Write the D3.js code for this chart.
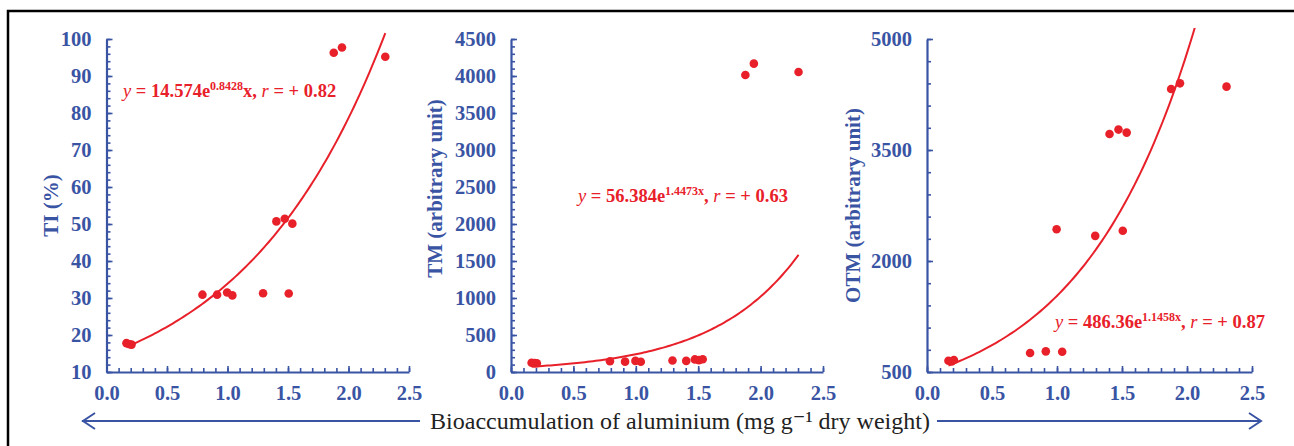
<!DOCTYPE html>
<html>
<head>
<meta charset="utf-8">
<script src="https://cdn.jsdelivr.net/npm/d3@7"></script>
<style>
  body { margin:0; background:#fff; }
  svg text { font-family: "Liberation Serif", Tinos, "Times New Roman", "DejaVu Serif", serif; }
</style>
</head>
<body>
<div id="chart"></div>
<script>
// Al bioaccumulation (mg/g dry weight), same samples in all three panels
var alX   = [0.165, 0.19, 0.207, 0.793, 0.914, 0.997, 1.04, 1.294, 1.404, 1.473, 1.506, 1.536, 1.878, 1.946, 2.304];
var tiVals  = [17.8, 17.5, 17.4, 30.9, 30.9, 31.5, 30.7, 31.3, 50.7, 51.4, 31.2, 50.1, 96.3, 97.7, 95.2];
var tmVals  = [125, 120, 118, 145, 140, 150, 138, 155, 150, 170, 160, 172, 4014, 4167, 4054];
var otmVals = [653, 644, 662, 756, 779, 2430, 774, 2340, 3717, 3776, 2408, 3735, 4325, 4401, 4356];

// exponential trendlines y = a*e^(b*x), r
var trendA = [14.574, 56.384, 486.36];
var trendB = [0.8428, 1.4473, 1.1458];
var trendR = ["0.82", "0.63", "0.87"];

var yTitles = ["TI (%)", "TM (arbitrary unit)", "OTM (arbitrary unit)"];
var xTickVals = [0, 0.5, 1.0, 1.5, 2.0, 2.5];
var xLabel = "Bioaccumulation of aluminium (mg g\u207B\u00B9 dry weight)";

var blue = "#3a54a4";
var red = "#e8202a";
var serif = "'Liberation Serif', Tinos, 'Times New Roman', 'DejaVu Serif', serif";

var svg = d3.select("#chart").append("svg").attr("width", 1294).attr("height", 446)
  .attr("font-family", serif);

// frame (only top and left edge visible in the original)
svg.append("rect").attr("x", 8).attr("y", 11).attr("width", 1320).attr("height", 480)
   .attr("fill", "none").attr("stroke", "#000").attr("stroke-width", 2.5);

var panels = [
  {x0:106.5, x1:409, ymin:10, ymax:100, major:10, minor:2, vals:tiVals, titleX:51,
   eq:{x:123, y:97, supX:false}},
  {x0:511, x1:823, ymin:0, ymax:4500, major:500, minor:100, vals:tmVals, titleX:435,
   eq:{x:578, y:202, supX:true}},
  {x0:927, x1:1252, ymin:500, ymax:5000, major:1500, minor:300, vals:otmVals, titleX:853,
   eq:{x:1055, y:328, supX:true}}
];
var yTop = 39, yBot = 372;

panels.forEach(function(p, i) {
  var x = d3.scaleLinear().domain([0, 2.5]).range([p.x0, p.x1]);
  var y = d3.scaleLinear().domain([p.ymin, p.ymax]).range([yBot, yTop]);

  var g = svg.append("g");

  // minor ticks
  g.append("g").attr("transform", "translate(0," + yBot + ")")
    .call(d3.axisBottom(x).tickValues(d3.range(0, 2.5001, 0.1)).tickSize(-4).tickFormat(""))
    .call(function(a){ a.select(".domain").remove(); });
  g.append("g").attr("transform", "translate(" + p.x0 + ",0)")
    .call(d3.axisLeft(y).tickValues(d3.range(p.ymin, p.ymax + 0.001, p.minor)).tickSize(-4).tickFormat(""))
    .call(function(a){ a.select(".domain").remove(); });

  // major ticks + labels
  g.append("g").attr("transform", "translate(0," + yBot + ")")
    .call(d3.axisBottom(x).tickValues(xTickVals).tickSizeInner(-6).tickSizeOuter(0)
      .tickPadding(13).tickFormat(d3.format(".1f")));
  g.append("g").attr("transform", "translate(" + p.x0 + ",0)")
    .call(d3.axisLeft(y).tickValues(d3.range(p.ymin, p.ymax + 0.001, p.major)).tickSizeInner(-6).tickSizeOuter(0)
      .tickPadding(15).tickFormat(d3.format("d")));

  g.selectAll("g").attr("font-family", serif);
  g.selectAll(".domain").attr("stroke", blue).attr("stroke-width", 2.2);
  g.selectAll(".tick line").attr("stroke", blue).attr("stroke-width", 1.6);
  g.selectAll(".tick text").attr("fill", blue).attr("font-size", "20.5px").attr("font-weight", "bold");

  // y title
  g.append("text")
    .attr("transform", "translate(" + p.titleX + "," + ((yTop + yBot) / 2 + (i == 1 ? -17 : 0)) + ") rotate(-90)")
    .attr("text-anchor", "middle").attr("dy", "0.35em")
    .attr("font-size", "21px").attr("font-weight", "bold").attr("fill", blue)
    .text(yTitles[i]);

  // trendline, clipped to a bit above the plot top
  var clipId = "clip" + i;
  svg.append("clipPath").attr("id", clipId).append("rect")
    .attr("x", p.x0).attr("y", 28).attr("width", p.x1 - p.x0).attr("height", yBot - 28);
  var xmin = d3.min(alX), xmax = d3.max(alX);
  var curvePts = d3.range(xmin, xmax + 0.0001, (xmax - xmin) / 100).map(function(v) {
    return [v, trendA[i] * Math.exp(trendB[i] * v)];
  });
  g.append("path").datum(curvePts)
    .attr("clip-path", "url(#" + clipId + ")")
    .attr("fill", "none").attr("stroke", red).attr("stroke-width", 2)
    .attr("d", d3.line().x(function(d){ return x(d[0]); }).y(function(d){ return y(d[1]); }));

  // points
  g.selectAll("circle.pt").data(alX).enter().append("circle")
    .attr("class", "pt")
    .attr("cx", function(d){ return x(d); })
    .attr("cy", function(d, j){ return y(p.vals[j]); })
    .attr("r", 4.3).attr("fill", red);

  // equation
  var eq = g.append("text").attr("x", p.eq.x).attr("y", p.eq.y)
    .attr("font-size", "18.5px").attr("font-weight", "bold").attr("fill", red);
  eq.append("tspan").attr("font-style", "italic").attr("font-weight", "normal").text("y");
  eq.append("tspan").text(" = " + trendA[i] + "e");
  eq.append("tspan").attr("font-size", "12px").attr("dy", -7).text(trendB[i] + (p.eq.supX ? "x" : ""));
  eq.append("tspan").attr("dy", 7).text((p.eq.supX ? "" : "x") + ", ");
  eq.append("tspan").attr("font-style", "italic").attr("font-weight", "normal").text("r");
  eq.append("tspan").text(" = + " + trendR[i]);
});

// shared x axis caption with arrows
var capY = 421;
svg.append("text").attr("x", 680).attr("y", 429).attr("text-anchor", "middle")
  .attr("font-size", "24px").attr("fill", "#222").text(xLabel);

var arrows = svg.append("g").attr("stroke", blue).attr("stroke-width", 2).attr("fill", "none");
arrows.append("line").attr("x1", 82).attr("x2", 420).attr("y1", capY).attr("y2", capY);
arrows.append("path").attr("d", "M95,413 L83,421 L95,429");
arrows.append("line").attr("x1", 937).attr("x2", 1261).attr("y1", capY).attr("y2", capY);
arrows.append("path").attr("d", "M1249,413 L1261,421 L1249,429");
</script>
</body>
</html>
